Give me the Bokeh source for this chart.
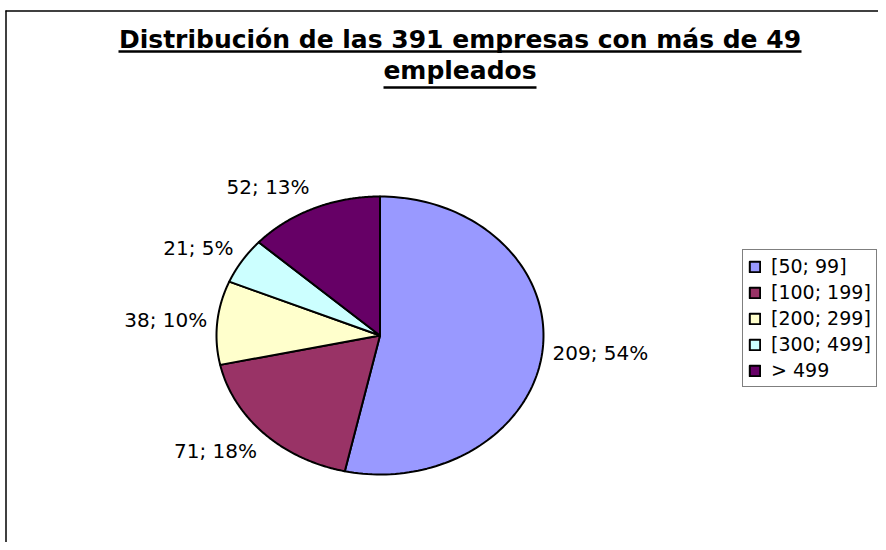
import numpy as np
from bokeh.plotting import figure
from bokeh.models import Range1d, ColumnDataSource, Legend, LegendItem
from bokeh.core.properties import value
from bokeh.embed import file_html
from bokeh.resources import INLINE

# ---- data ----
categories = ["[50; 99]", "[100; 199]", "[200; 299]", "[300; 499]", "> 499"]
counts = [209, 71, 38, 21, 52]
percents = [54, 18, 10, 5, 13]
colors = ["#9999FF", "#993366", "#FFFFCC", "#CCFFFF", "#660066"]
title_lines = ["Distribución de las 391 empresas con más de 49", "empleados"]

FONT = "DejaVu Sans"

# pixel coordinate system (y grows downwards)
p = figure(width=878, height=542, output_backend="svg", toolbar_location=None,
           x_range=Range1d(0, 878), y_range=Range1d(542, 0),
           min_border=0, outline_line_color=None)
p.axis.visible = False
p.grid.visible = False
p.background_fill_color = "white"
p.border_fill_color = "white"

# chart-area border (left and top visible, rest cut off)
p.segment(x0=[5.5, 5], y0=[10, 10.5], x1=[5.5, 878], y1=[542, 10.5],
          line_color="#000000", line_width=1.5)

# title
p.text(x=[459.5, 459.5], y=[38.5, 69.5], text=title_lines,
       text_font=value(FONT), text_font_style="bold", text_font_size="25px",
       text_align="center", text_baseline="middle", text_color="black")
p.segment(x0=[118, 383], y0=[51, 87], x1=[801, 536], y1=[51, 87],
          line_color="black", line_width=2.5)

# pie (elliptical, clockwise from 12 o'clock)
cx, cy, rx, ry = 379.5, 335.0, 163.5, 139.0
total = float(sum(counts))
fr = np.array(counts) / total
ends = np.cumsum(fr) * 2 * np.pi
starts = ends - fr * 2 * np.pi

items = []
for i, (a0, a1) in enumerate(zip(starts, ends)):
    t = np.linspace(a0, a1, 120)
    xs = np.concatenate([[cx], cx + rx * np.sin(t), [cx]])
    ys = np.concatenate([[cy], cy - ry * np.cos(t), [cy]])
    r = p.patch(x=xs, y=ys, fill_color=colors[i], line_color="black",
                line_width=2, line_join="round")
    items.append(LegendItem(label=categories[i], renderers=[r]))

# data labels outside the slices
mids = (starts + ends) / 2
lx, ly, lt, la = [], [], [], []
for i, m in enumerate(mids):
    s, c = np.sin(m), np.cos(m)
    lx.append(cx + (rx + 10) * s)
    ly.append(cy - (ry + 14) * c - c * 10)
    lt.append(f"{counts[i]}; {percents[i]}%")
    la.append("left" if s > 0 else "right")
src = ColumnDataSource(dict(x=lx, y=ly, text=lt, align=la))
p.text(x="x", y="y", text="text", text_align="align", source=src,
       text_font=value(FONT), text_font_size="20px", text_baseline="middle",
       text_color="black")

legend = Legend(items=items, location=(742, 155), orientation="vertical",
                label_text_font=FONT, label_text_font_size="19px",
                label_text_color="black",
                glyph_width=13, glyph_height=13, label_standoff=10,
                padding=5, spacing=4, margin=0,
                border_line_color="black", border_line_width=1,
                background_fill_color="white", background_fill_alpha=1)
p.add_layout(legend)

open("out.html", "w").write(file_html(p, INLINE))
